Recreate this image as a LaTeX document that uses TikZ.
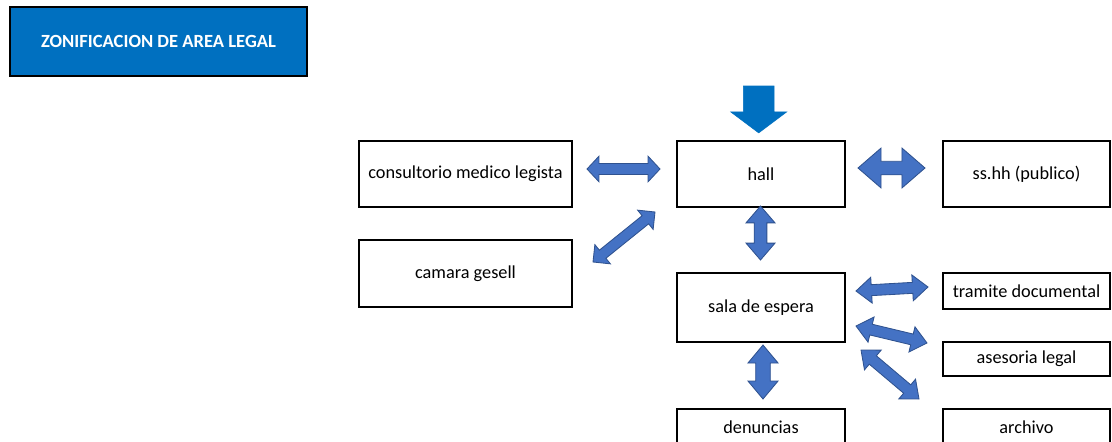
\documentclass[tikz,border=0pt]{standalone}
\usepackage{fontspec}
\setmainfont{Carlito}
\usetikzlibrary{calc}
\definecolor{titleblue}{HTML}{0070C0}
\definecolor{arrowblue}{HTML}{4472C4}
\definecolor{arrowedge}{HTML}{2F528F}

\newcommand{\dblarrow}[5]{%
\filldraw[dblarr] let \p1=(#1), \p2=(#2), \n1={atan2(\y2-\y1,\x2-\x1)} in
 (\p1) -- ($(\p1)+(\n1:#5)+({\n1+90}:#4)$) -- ($(\p1)+(\n1:#5)+({\n1+90}:#3)$)
 -- ($(\p2)+({\n1+180}:#5)+({\n1+90}:#3)$) -- ($(\p2)+({\n1+180}:#5)+({\n1+90}:#4)$)
 -- (\p2) -- ($(\p2)+({\n1+180}:#5)+({\n1-90}:#4)$) -- ($(\p2)+({\n1+180}:#5)+({\n1-90}:#3)$)
 -- ($(\p1)+(\n1:#5)+({\n1-90}:#3)$) -- ($(\p1)+(\n1:#5)+({\n1-90}:#4)$) -- cycle;}

\newcommand{\sglarrow}[5]{%
\filldraw[sglarr] let \p1=(#1), \p2=(#2), \n1={atan2(\y2-\y1,\x2-\x1)} in
 ($(\p1)+({\n1+90}:#3)$) -- ($(\p2)+({\n1+180}:#5)+({\n1+90}:#3)$) -- ($(\p2)+({\n1+180}:#5)+({\n1+90}:#4)$)
 -- (\p2) -- ($(\p2)+({\n1+180}:#5)+({\n1-90}:#4)$) -- ($(\p2)+({\n1+180}:#5)+({\n1-90}:#3)$)
 -- ($(\p1)+({\n1-90}:#3)$) -- cycle;}

\begin{document}
\begin{tikzpicture}[x=0.025cm, y=-0.025cm,
  box/.style={draw=black, line width=1.6pt, inner sep=0pt, font=\fontsize{13}{15}\selectfont},
  titlebox/.style={draw=black, fill=titleblue, line width=2pt, inner sep=0pt, text=white, font=\fontsize{13.2}{15}\selectfont\bfseries},
  dblarr/.style={fill=arrowblue, draw=arrowedge, line width=0.6pt, line join=miter},
  sglarr/.style={fill=titleblue, draw=titleblue, line width=0.4pt, line join=miter}]
\useasboundingbox (0,0) rectangle (1112,441);
\clip (0,0) rectangle (1112,441);

\node[titlebox, minimum width=7.425cm, minimum height=1.725cm] (title) at (158.5,41.5) {ZONIFICACION DE AREA LEGAL};

\node[box, minimum width=5.325cm, minimum height=1.65cm] (cml) at (465.5,174) {consultorio medico legista};
\node[box, minimum width=5.325cm, minimum height=1.675cm] (cam) at (465.5,273.5) {camara gesell};
\node[box, minimum width=4.2cm, minimum height=1.65cm] (hall) at (761,174) {hall};
\node[box, minimum width=4.175cm, minimum height=1.65cm] (sshh) at (1026.5,174) {ss.hh (publico)};
\node[box, minimum width=4.2cm, minimum height=1.725cm] (sala) at (761,307.5) {sala de espera};
\node[box, minimum width=4.175cm, minimum height=0.9cm] (tram) at (1026.5,291) {tramite documental};
\node[box, minimum width=4.175cm, minimum height=0.85cm] (ases) at (1026.5,359) {asesoria legal};
\node[box, minimum width=4.175cm, minimum height=0.9cm] (arch) at (1026.5,427) {archivo};
\node[box, minimum width=4.2cm, minimum height=0.9cm] (denu) at (761,427) {denuncias};

\coordinate (entry) at (758.7,86);
\coordinate (entrytip) at ($(hall.north)+(-2.3,-7)$);
\coordinate (cmlR) at (587,169);
\coordinate (hallL) at (660,169);
\coordinate (camR) at (593,262);
\coordinate (hallSW) at (655,212);
\coordinate (hallR) at (858,168);
\coordinate (sshhL) at (925,168);
\coordinate (hallS) at (760.5,206);
\coordinate (salaN) at (760.5,260);
\coordinate (salaR1) at (856,291);
\coordinate (tramL) at (928,287);
\coordinate (salaR2) at (856,326);
\coordinate (asesL) at (927,343);
\coordinate (salaR3) at (861,350);
\coordinate (archL) at (919,399);
\coordinate (salaS) at (763,345);
\coordinate (denuN) at (763,399);

\sglarrow{entry}{entrytip}{10.9pt}{19.9pt}{14.9pt}
\dblarrow{cmlR}{hallL}{3.9pt}{9.1pt}{8.5pt}
\dblarrow{camR}{hallSW}{3.7pt}{8.8pt}{8.8pt}
\dblarrow{hallR}{sshhL}{4.8pt}{14.2pt}{16.4pt}
\dblarrow{hallS}{salaN}{4.5pt}{10.3pt}{12pt}
\dblarrow{salaR1}{tramL}{3.9pt}{9.2pt}{11pt}
\dblarrow{salaR2}{asesL}{3.9pt}{9.2pt}{11pt}
\dblarrow{salaR3}{archL}{3.9pt}{9.2pt}{11pt}
\dblarrow{salaS}{denuN}{5.2pt}{10.7pt}{12.8pt}
\end{tikzpicture}
\end{document}
